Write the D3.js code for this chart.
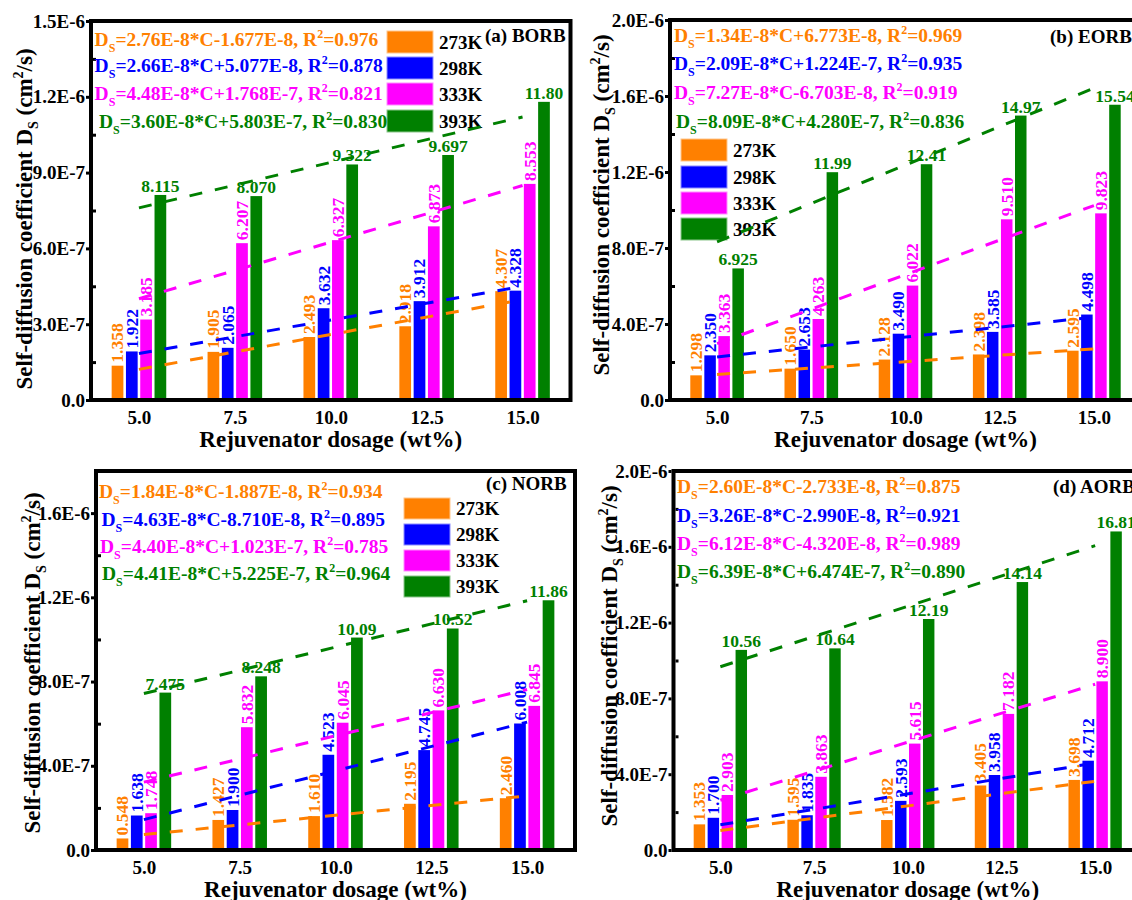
<!DOCTYPE html>
<html>
<head>
<meta charset="utf-8">
<script src="https://cdn.jsdelivr.net/npm/d3@7"></script>
<style>
  body { margin: 0; background: #fff; }
  svg text { font-family: 'Times New Roman', 'Liberation Serif', serif; font-weight: bold; }
</style>
</head>
<body>
<svg id="chart" width="1132" height="900"></svg>
<script>
const dosages = [5.0, 7.5, 10.0, 12.5, 15.0]
const temps = ['273K', '298K', '333K', '393K']
const colors = ['#ff8000', '#0000ff', '#ff00ff', '#008000']

// bar values, in units of 1E-7 cm2/s, one row per temperature
const borbValues = [
    [1.358, 1.905, 2.493, 2.918, 4.307],
    [1.922, 2.065, 3.632, 3.912, 4.328],
    [3.185, 6.207, 6.327, 6.873, 8.553],
    [8.115, 8.070, 9.322, 9.697, 11.80]
]
const eorbValues = [
    [1.298, 1.650, 2.128, 2.398, 2.595],
    [2.350, 2.653, 3.490, 3.585, 4.498],
    [3.363, 4.263, 6.022, 9.510, 9.823],
    [6.925, 11.99, 12.41, 14.97, 15.54]
]
const norbValues = [
    [0.548, 1.427, 1.610, 2.195, 2.460],
    [1.638, 1.900, 4.523, 4.745, 6.008],
    [1.748, 5.832, 6.045, 6.630, 6.845],
    [7.475, 8.248, 10.09, 10.52, 11.86]
]
const aorbValues = [
    [1.353, 1.595, 1.582, 3.405, 3.698],
    [1.700, 1.835, 2.593, 3.958, 4.712],
    [2.903, 3.863, 5.615, 7.182, 8.900],
    [10.56, 10.64, 12.19, 14.14, 16.81]
]

// linear fits D_S = slope*C + intercept
const borbSlope = [2.76e-8, 2.66e-8, 4.48e-8, 3.60e-8]
const borbIntercept = [-1.677e-8, 5.077e-8, 1.768e-7, 5.803e-7]
const borbR2 = [0.976, 0.878, 0.821, 0.830]

const eorbSlope = [1.34e-8, 2.09e-8, 7.27e-8, 8.09e-8]
const eorbIntercept = [6.773e-8, 1.224e-7, -6.703e-8, 4.280e-7]
const eorbR2 = [0.969, 0.935, 0.919, 0.836]

const norbSlope = [1.84e-8, 4.63e-8, 4.40e-8, 4.41e-8]
const norbIntercept = [-1.887e-8, -8.710e-8, 1.023e-7, 5.225e-7]
const norbR2 = [0.934, 0.895, 0.785, 0.964]

const aorbSlope = [2.60e-8, 3.26e-8, 6.12e-8, 6.39e-8]
const aorbIntercept = [-2.733e-8, -2.990e-8, -4.320e-8, 6.474e-7]
const aorbR2 = [0.875, 0.921, 0.989, 0.890]

const panels = [
    {name: '(a) BORB', values: borbValues, slope: borbSlope, intercept: borbIntercept, r2: borbR2,
     ymax: 1.5e-6, step: 3e-7,
     left: 91, right: 570.5, top: 21, bottom: 400,
     titleX: 32, titleY: 219, xTitleY: 447,
     eqX: [94.6, 94.6, 94.6, 99], eqY: [46, 72, 100, 128],
     legend: {x: 387, y: [31, 57, 83, 110], h: 22},
     label: [485, 42]},
    {name: '(b) EORB', values: eorbValues, slope: eorbSlope, intercept: eorbIntercept, r2: eorbR2,
     ymax: 2e-6, step: 4e-7,
     left: 670, right: 1141, top: 20, bottom: 400,
     titleX: 609, titleY: 205, xTitleY: 447,
     eqX: [674, 674, 674, 676], eqY: [42, 70, 99, 128],
     legend: {x: 681, y: [139, 166, 192, 218], h: 22},
     label: [1050, 43]},
    {name: '(c) NORB', values: norbValues, slope: norbSlope, intercept: norbIntercept, r2: norbR2,
     ymax: 1.8e-6, step: 4e-7,
     left: 96, right: 575, top: 471, bottom: 850,
     titleX: 40, titleY: 663, xTitleY: 897,
     eqX: [99, 101.5, 100, 102], eqY: [498, 526, 553, 580],
     legend: {x: 404, y: [498, 524, 550, 576], h: 21},
     label: [486, 490]},
    {name: '(d) AORB', values: aorbValues, slope: aorbSlope, intercept: aorbIntercept, r2: aorbR2,
     ymax: 2e-6, step: 4e-7,
     left: 673.5, right: 1142, top: 471, bottom: 850,
     titleX: 617, titleY: 656, xTitleY: 897,
     eqX: [677, 677, 677, 677], eqY: [493, 522, 550, 578],
     legend: null,
     label: [1053, 493]}
]

const svg = d3.select('#chart')

function sci(v, n) {
    const e = Math.floor(Math.log10(Math.abs(v)))
    return (Math.abs(v) / Math.pow(10, e)).toFixed(n) + 'E' + e
}

function tickFmt(v) {
    if (Math.abs(v) < 1e-12) return '0.0'
    let e = Math.floor(Math.log10(v) + 1e-9)
    return (v / Math.pow(10, e)).toFixed(1) + 'E' + e
}

const valFmt = v => v >= 10 ? v.toFixed(2) : v.toFixed(3)

function drawPanel(p) {
    const g = svg.append('g')

    const x = d3.scaleLinear().domain([3.75, 16.25]).range([p.left, p.right])
    const y = d3.scaleLinear().domain([0, p.ymax]).range([p.bottom, p.top])
    const band = d3.scaleBand().domain(temps).range([-0.745, 0.745])
        .paddingInner(0.18).paddingOuter(0.09)
    const bw = band.bandwidth()

    const rows = temps.flatMap((t, i) => dosages.map((d, j) => ({t, i, d, v: p.values[i][j]})))

    // bars
    g.append('g').selectAll('rect').data(rows).join('rect')
        .attr('x', r => x(r.d + band(r.t)))
        .attr('width', r => x(r.d + band(r.t) + bw) - x(r.d + band(r.t)))
        .attr('y', r => y(r.v * 1e-7))
        .attr('height', r => y(0) - y(r.v * 1e-7))
        .attr('fill', r => colors[r.i])

    // value labels
    const lab = g.append('g').selectAll('text').data(rows).join('text')
        .attr('fill', r => colors[r.i])
        .style('font-size', '17.5px')
        .text(r => valFmt(r.v))
    lab.filter(r => r.i === 3)
        .attr('x', r => x(r.d + band(r.t) + bw / 2))
        .attr('y', r => y(r.v * 1e-7) - 3)
        .attr('text-anchor', 'middle')
    lab.filter(r => r.i !== 3)
        .attr('transform', r => `translate(${x(r.d + band(r.t) + bw / 2)},${y(r.v * 1e-7) - 3}) rotate(-90)`)
        .attr('dy', '0.34em')
        .attr('text-anchor', 'start')

    // y axis: outward major ticks with labels, inward minor ticks
    const majors = d3.range(0, p.ymax + 1e-12, p.step)
    const minors = majors.map(v => v + p.step / 2).filter(v => v < p.ymax - 1e-12)

    const ya = g.append('g')
        .attr('transform', `translate(${p.left - 2},0)`)
        .call(d3.axisLeft(y).tickValues(majors).tickSize(3).tickPadding(1).tickFormat(tickFmt))
    ya.select('.domain').remove()
    ya.selectAll('line').attr('stroke-width', 3)
    ya.selectAll('text').style('font-size', '19px').attr('fill', '#000')

    const ym = g.append('g')
        .attr('transform', `translate(${p.left + 2},0)`)
        .call(d3.axisRight(y).tickValues(minors).tickSize(3).tickFormat(''))
    ym.select('.domain').remove()
    ym.selectAll('line').attr('stroke-width', 3)

    // x axis labels
    const xa = g.append('g')
        .attr('transform', `translate(0,${p.bottom})`)
        .call(d3.axisBottom(x).tickValues(dosages).tickSize(0).tickFormat(d3.format('.1f')))
    xa.select('.domain').remove()
    xa.selectAll('text').attr('y', 24).attr('dy', 0).style('font-size', '19px').attr('fill', '#000')

    // frame
    g.append('rect')
        .attr('x', p.left).attr('y', p.top)
        .attr('width', p.right - p.left).attr('height', p.bottom - p.top)
        .attr('fill', 'none').attr('stroke', '#000').attr('stroke-width', 4)

    // axis titles
    g.append('text')
        .attr('x', (p.left + p.right) / 2).attr('y', p.xTitleY)
        .attr('text-anchor', 'middle')
        .style('font-size', '23px')
        .text('Rejuvenator dosage (wt%)')

    const yt = g.append('text')
        .attr('transform', `translate(${p.titleX},${p.titleY}) rotate(-90)`)
        .attr('text-anchor', 'middle')
        .style('font-size', '23px')
    yt.append('tspan').text('Self-diffusion coefficient D')
    yt.append('tspan').attr('dy', 6).style('font-size', '14px').text('S')
    yt.append('tspan').attr('dy', -6).text(' (cm')
    yt.append('tspan').attr('dy', -9).style('font-size', '14px').text('2')
    yt.append('tspan').attr('dy', 9).text('/s)')

    // panel name
    g.append('text')
        .attr('x', p.label[0]).attr('y', p.label[1])
        .style('font-size', '19px')
        .text(p.name)

    // legend
    if (p.legend) {
        temps.forEach((t, i) => {
            g.append('rect')
                .attr('x', p.legend.x).attr('y', p.legend.y[i])
                .attr('width', 46).attr('height', p.legend.h)
                .attr('fill', colors[i])
                .attr('stroke', d3.interpolateRgb(colors[i], '#fff')(0.55))
                .attr('stroke-width', 1)
            g.append('text')
                .attr('x', p.legend.x + 52)
                .attr('y', p.legend.y[i] + p.legend.h / 2 + 6.5)
                .style('font-size', '19px')
                .text(t)
        })
    }

    // fit equations
    temps.forEach((t, i) => {
        const eq = g.append('text')
            .attr('x', p.eqX[i]).attr('y', p.eqY[i])
            .attr('fill', colors[i])
            .style('font-size', '19.5px')
        const sign = p.intercept[i] < 0 ? '-' : '+'
        eq.append('tspan').text('D')
        eq.append('tspan').attr('dy', 6).style('font-size', '12px').text('S')
        eq.append('tspan').attr('dy', -6)
            .text('=' + sci(p.slope[i], 2) + '*C' + sign + sci(p.intercept[i], 3) + ', R')
        eq.append('tspan').attr('dy', -8).style('font-size', '12px').text('2')
        eq.append('tspan').attr('dy', 8).text('=' + p.r2[i].toFixed(3))
    })

    // dashed fit lines
    const line = d3.line().x(d => x(d[0])).y(d => y(d[1]))
    temps.forEach((t, i) => {
        const pts = d3.extent(dosages).map(c => [c, p.slope[i] * c + p.intercept[i]])
        g.append('path')
            .attr('d', line(pts))
            .attr('fill', 'none')
            .attr('stroke', colors[i])
            .attr('stroke-width', 3)
            .attr('stroke-dasharray', '13,13')
    })
}

panels.forEach(drawPanel)
</script>
</body>
</html>
